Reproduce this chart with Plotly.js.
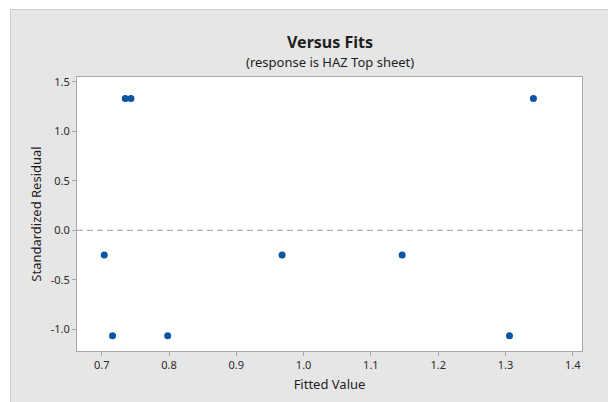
<!DOCTYPE html>
<html><head><meta charset="utf-8">
<script src="https://cdn.plot.ly/plotly-3.0.1.min.js"></script>
<style>
html,body{margin:0;padding:0;background:#fff;width:608px;height:402px;overflow:hidden}
#chart{position:absolute;left:10px;top:9px;width:597px;height:392px;border-left:1px solid #cfcfcf;border-top:1px solid #cfcfcf}
</style></head><body>
<div id="chart"></div>
<script>
const fittedValues = [0.7037, 0.716, 0.735, 0.7434, 0.798, 0.968, 1.1465, 1.306, 1.3416];
const stdResiduals = [-0.25, -1.065, 1.333, 1.333, -1.065, -0.25, -0.25, -1.065, 1.333];
const xTickVals = [0.7, 0.8, 0.9, 1.0, 1.1, 1.2, 1.3, 1.4];
const xTickText = ["0.7", "0.8", "0.9", "1.0", "1.1", "1.2", "1.3", "1.4"];
const yTickVals = [-1.0, -0.5, 0.0, 0.5, 1.0, 1.5];
const yTickText = ["-1.0", "-0.5", "0.0", "0.5", "1.0", "1.5"];
const titleText = "Versus Fits";
const subtitleText = "(response is HAZ Top sheet)";

const font = "Noto Sans, Open Sans, sans-serif";
const trace = {
  x: fittedValues, y: stdResiduals, type: "scatter", mode: "markers",
  marker: {color: "#0a55a3", size: 7}, hoverinfo: "skip"
};
const axisCommon = {
  showgrid: false, zeroline: false, showline: true, mirror: true,
  linecolor: "#a8a8a8", linewidth: 1, ticks: "outside", ticklen: 4,
  tickcolor: "#a8a8a8", tickfont: {family: font, size: 11, color: "#2a2a2a"}
};
const layout = {
  width: 597, height: 392,
  paper_bgcolor: "#e6e6e6", plot_bgcolor: "#ffffff",
  margin: {l: 66, r: 26, t: 67, b: 51},
  showlegend: false,
  annotations: [
    {text: "<b>" + titleText + "</b>", xref: "paper", yref: "paper", x: 0.5, y: 1.127,
     xanchor: "center", yanchor: "middle", showarrow: false,
     font: {family: font, size: 16, color: "#1e1e1e"}},
    {text: subtitleText, xref: "paper", yref: "paper", x: 0.5, y: 1.055,
     xanchor: "center", yanchor: "middle", showarrow: false,
     font: {family: font, size: 13, color: "#1e1e1e"}}
  ],
  xaxis: Object.assign({}, axisCommon, {
    range: [0.6632, 1.4138], tickvals: xTickVals, ticktext: xTickText,
    title: {text: "Fitted Value", font: {family: font, size: 13, color: "#1e1e1e"}, standoff: 8}
  }),
  yaxis: Object.assign({}, axisCommon, {
    range: [-1.219, 1.55], tickvals: yTickVals, ticktext: yTickText,
    title: {text: "Standardized Residual", font: {family: font, size: 13, color: "#1e1e1e"}, standoff: 6}
  }),
  shapes: [{type: "line", xref: "paper", x0: 0, x1: 1, yref: "y", y0: 0, y1: 0,
            line: {color: "#b0b0b0", width: 1.2, dash: "6px,4px"}}]
};
Plotly.newPlot("chart", [trace], layout, {staticPlot: true, displayModeBar: false});
</script></body></html>
